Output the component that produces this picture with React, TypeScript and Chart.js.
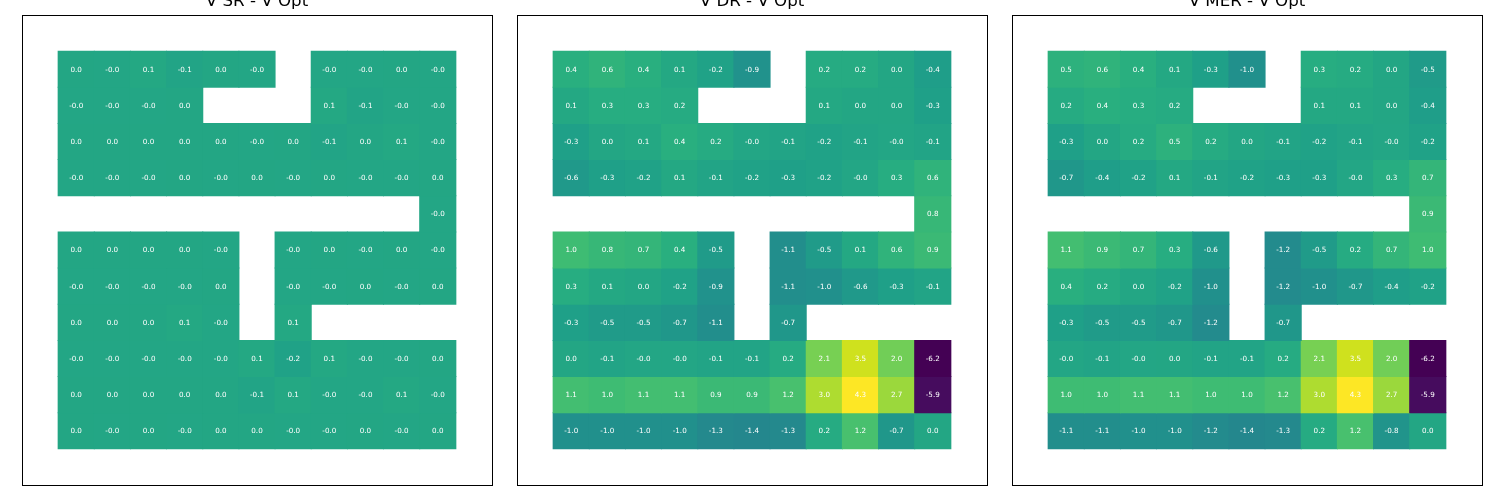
import React, { useEffect, useRef } from "react";
import { Chart, registerables } from "chart.js";

Chart.register(...registerables);

// 13 columns: one empty padding column on each side of the 11x11 grid
const columnLabels = ["", "c1", "c2", "c3", "c4", "c5", "c6", "c7", "c8", "c9", "c10", "c11", " "];

const panelTitles = ["V SR - V Opt", "V DR - V Opt", "V MER - V Opt"];

// -0.01 stands for values that print as "-0.0"
const srValues: (number | null)[][] = [
  [0.0, -0.01, 0.1, -0.1, 0.0, -0.01, null, -0.01, -0.01, 0.0, -0.01],
  [-0.01, -0.01, -0.01, 0.0, null, null, null, 0.1, -0.1, -0.01, -0.01],
  [0.0, 0.0, 0.0, 0.0, 0.0, -0.01, 0.0, -0.1, 0.0, 0.1, -0.01],
  [-0.01, -0.01, -0.01, 0.0, -0.01, 0.0, -0.01, 0.0, -0.01, -0.01, 0.0],
  [null, null, null, null, null, null, null, null, null, null, -0.01],
  [0.0, 0.0, 0.0, 0.0, -0.01, null, -0.01, 0.0, -0.01, 0.0, -0.01],
  [-0.01, -0.01, -0.01, -0.01, 0.0, null, -0.01, -0.01, 0.0, -0.01, 0.0],
  [0.0, 0.0, 0.0, 0.1, -0.01, null, 0.1, null, null, null, null],
  [-0.01, -0.01, -0.01, -0.01, -0.01, 0.1, -0.2, 0.1, -0.01, -0.01, 0.0],
  [0.0, 0.0, 0.0, 0.0, 0.0, -0.1, 0.1, -0.01, -0.01, 0.1, -0.01],
  [0.0, -0.01, 0.0, -0.01, 0.0, 0.0, -0.01, -0.01, 0.0, -0.01, 0.0],
];

const drValues: (number | null)[][] = [
  [0.4, 0.6, 0.4, 0.1, -0.2, -0.9, null, 0.2, 0.2, 0.0, -0.4],
  [0.1, 0.3, 0.3, 0.2, null, null, null, 0.1, 0.0, 0.0, -0.3],
  [-0.3, 0.0, 0.1, 0.4, 0.2, -0.01, -0.1, -0.2, -0.1, -0.01, -0.1],
  [-0.6, -0.3, -0.2, 0.1, -0.1, -0.2, -0.3, -0.2, -0.01, 0.3, 0.6],
  [null, null, null, null, null, null, null, null, null, null, 0.8],
  [1.0, 0.8, 0.7, 0.4, -0.5, null, -1.1, -0.5, 0.1, 0.6, 0.9],
  [0.3, 0.1, 0.0, -0.2, -0.9, null, -1.1, -1.0, -0.6, -0.3, -0.1],
  [-0.3, -0.5, -0.5, -0.7, -1.1, null, -0.7, null, null, null, null],
  [0.0, -0.1, -0.01, -0.01, -0.1, -0.1, 0.2, 2.1, 3.5, 2.0, -6.2],
  [1.1, 1.0, 1.1, 1.1, 0.9, 0.9, 1.2, 3.0, 4.3, 2.7, -5.9],
  [-1.0, -1.0, -1.0, -1.0, -1.3, -1.4, -1.3, 0.2, 1.2, -0.7, 0.0],
];

const merValues: (number | null)[][] = [
  [0.5, 0.6, 0.4, 0.1, -0.3, -1.0, null, 0.3, 0.2, 0.0, -0.5],
  [0.2, 0.4, 0.3, 0.2, null, null, null, 0.1, 0.1, 0.0, -0.4],
  [-0.3, 0.0, 0.2, 0.5, 0.2, 0.0, -0.1, -0.2, -0.1, -0.01, -0.2],
  [-0.7, -0.4, -0.2, 0.1, -0.1, -0.2, -0.3, -0.3, -0.01, 0.3, 0.7],
  [null, null, null, null, null, null, null, null, null, null, 0.9],
  [1.1, 0.9, 0.7, 0.3, -0.6, null, -1.2, -0.5, 0.2, 0.7, 1.0],
  [0.4, 0.2, 0.0, -0.2, -1.0, null, -1.2, -1.0, -0.7, -0.4, -0.2],
  [-0.3, -0.5, -0.5, -0.7, -1.2, null, -0.7, null, null, null, null],
  [-0.01, -0.1, -0.01, 0.0, -0.1, -0.1, 0.2, 2.1, 3.5, 2.0, -6.2],
  [1.0, 1.0, 1.1, 1.1, 1.0, 1.0, 1.2, 3.0, 4.3, 2.7, -5.9],
  [-1.1, -1.1, -1.0, -1.0, -1.2, -1.4, -1.3, 0.2, 1.2, -0.8, 0.0],
];

const allPanels = [srValues, drValues, merValues];

const allNumbers = allPanels.flat(2).filter((v): v is number => v !== null);
const VMIN = Math.min(...allNumbers);
const VMAX = Math.max(...allNumbers);

const VIRIDIS = [
  "#440154", "#48186a", "#472d7b", "#424086", "#3b528b", "#33638d", "#2c728e", "#26828e",
  "#21918c", "#1fa088", "#28ae80", "#3fbc73", "#5ec962", "#84d44b", "#addc30", "#d8e219", "#fde725",
];

function hexToRgb(h: string) {
  return [parseInt(h.slice(1, 3), 16), parseInt(h.slice(3, 5), 16), parseInt(h.slice(5, 7), 16)];
}

function viridis(t: number) {
  const tt = Math.max(0, Math.min(1, t));
  const pos = tt * (VIRIDIS.length - 1);
  const i = Math.min(Math.floor(pos), VIRIDIS.length - 2);
  const f = pos - i;
  const a = hexToRgb(VIRIDIS[i]);
  const b = hexToRgb(VIRIDIS[i + 1]);
  const c = a.map((av, k) => Math.round(av + (b[k] - av) * f));
  return `rgb(${c[0]},${c[1]},${c[2]})`;
}

const framePlugin = {
  id: "frame",
  afterDraw(chart: any) {
    const { ctx, chartArea } = chart;
    ctx.save();
    ctx.strokeStyle = "#000";
    ctx.lineWidth = 1;
    ctx.strokeRect(chartArea.left + 0.5, chartArea.top + 0.5, chartArea.right - chartArea.left, chartArea.bottom - chartArea.top);
    ctx.restore();
  },
};

const cellLabelPlugin = {
  id: "cellLabels",
  afterDatasetsDraw(chart: any) {
    const ctx = chart.ctx;
    ctx.save();
    ctx.font = '7.2px "DejaVu Sans"';
    ctx.fillStyle = "#ffffff";
    ctx.textAlign = "center";
    ctx.textBaseline = "middle";
    chart.data.datasets.forEach((ds: any, di: number) => {
      const meta = chart.getDatasetMeta(di);
      meta.data.forEach((el: any, i: number) => {
        const v = ds.cellValues[i - 1];
        if (v === null || v === undefined) return;
        const p = el.getCenterPoint();
        ctx.fillText(v.toFixed(1), p.x, p.y + 0.5);
      });
    });
    ctx.restore();
  },
};

function Panel({ title, values, left }: { title: string; values: (number | null)[][]; left: number }) {
  const ref = useRef<HTMLCanvasElement>(null);
  useEffect(() => {
    if (!ref.current) return;
    const datasets = values.map((row, r) => ({
      label: `row ${r + 1}`,
      data: [null, ...row.map((v) => (v === null ? null : [r + 1, r + 2])), null] as any,
      cellValues: row,
      backgroundColor: (c: any) => {
        const v = row[c.dataIndex - 1];
        return v === null || v === undefined ? "rgba(0,0,0,0)" : viridis((v - VMIN) / (VMAX - VMIN));
      },
      borderWidth: 0,
      barPercentage: 1,
      categoryPercentage: 1,
      grouped: false,
      inflateAmount: 0.5,
    }));
    const chart = new Chart(ref.current, {
      type: "bar",
      data: { labels: columnLabels, datasets: datasets as any },
      options: {
        animation: false,
        responsive: false,
        layout: { padding: { left: 10, right: 10, top: 0, bottom: 10 } },
        plugins: {
          legend: { display: false },
          tooltip: { enabled: false },
          title: {
            display: true,
            text: title,
            color: "#000",
            font: { family: "DejaVu Sans", size: 16.67, weight: "normal" as any, lineHeight: 1.2 },
            padding: { top: 17, bottom: 3 },
          },
        },
        scales: {
          x: { display: false, offset: true },
          y: { display: false, min: 0, max: 13, reverse: true },
        },
      } as any,
      plugins: [framePlugin, cellLabelPlugin],
    });
    return () => chart.destroy();
  }, [title, values]);
  return (
    <div style={{ position: "absolute", left, top: -25, width: 490, height: 520 }}>
      <canvas ref={ref} width={490} height={520} style={{ width: 490, height: 520, display: "block" }} />
    </div>
  );
}

export default function App() {
  return (
    <div style={{ position: "fixed", left: 0, top: 0, width: 1500, height: 500, overflow: "hidden", background: "#fff" }}>
      {allPanels.map((vals, i) => (
        <Panel key={i} title={panelTitles[i]} values={vals} left={12 + 495 * i} />
      ))}
    </div>
  );
}
